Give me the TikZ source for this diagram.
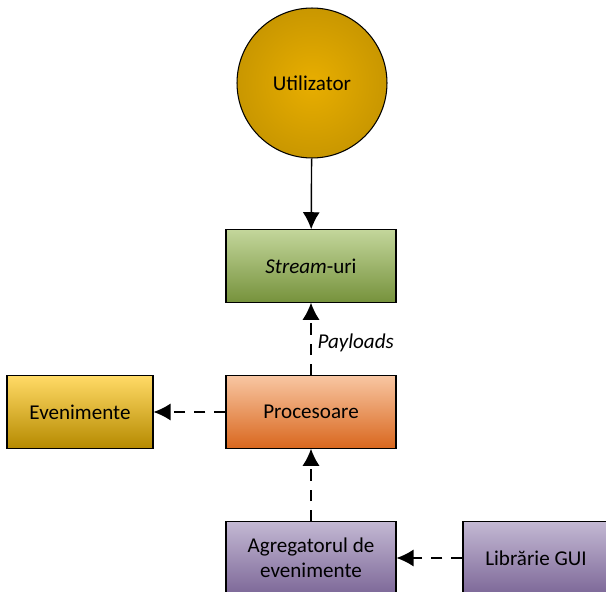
\documentclass[tikz,border=0pt]{standalone}
\usepackage{fontspec}
\setmainfont{Carlito}
\usepackage{tikz}
\usetikzlibrary{arrows.meta,positioning}

\definecolor{userIn}{HTML}{E8AE00}
\definecolor{userOut}{HTML}{C99700}
\definecolor{streamTop}{HTML}{C3D69B}
\definecolor{streamMid}{HTML}{9BBB59}
\definecolor{streamBot}{HTML}{76923C}
\definecolor{procTop}{HTML}{F8C6A2}
\definecolor{procMid}{HTML}{F0955A}
\definecolor{procBot}{HTML}{D9671E}
\definecolor{evTop}{HTML}{FFDA66}
\definecolor{evMid}{HTML}{FFC000}
\definecolor{evBot}{HTML}{B68A00}
\definecolor{guiTop}{HTML}{C3B8D3}
\definecolor{guiMid}{HTML}{A391BC}
\definecolor{guiBot}{HTML}{7D6898}

\begin{document}
\begin{tikzpicture}[
    x=0.02cm, y=-0.02cm,
    font=\fontsize{12}{14}\selectfont,
    block/.style={rectangle, draw=black, line width=0.6pt, align=center, minimum width=3.4cm, minimum height=1.45cm, shading=axis},
    stream/.style={block, top color=streamTop, middle color=streamMid, bottom color=streamBot},
    proc/.style={block, top color=procTop, middle color=procMid, bottom color=procBot},
    events/.style={block, minimum width=2.92cm, top color=evTop, middle color=evMid, bottom color=evBot},
    gui/.style={block, top color=guiTop, middle color=guiMid, bottom color=guiBot},
    user/.style={circle, draw=black, line width=0.6pt, minimum size=3cm, inner color=userIn, outer color=userOut},
    flow/.style={-{Latex[length=3.4mm,width=3.4mm]}, line width=0.8pt},
    weak/.style={flow, dash pattern=on 6.5pt off 5pt}
]
    \clip (0,0) rectangle (606,592);

    % --- USER & STREAMS ---
    \node[user] (Utilizator) at (312,83) {Utilizator};
    \node[stream] (Streams) at (311,266) {\textit{Stream}-uri};

    % --- PROCESSING ---
    \node[proc] (Procesoare) at (311,412) {Procesoare};
    \node[events] (Evenimente) at (80,412) {Evenimente};

    % --- EVENT SOURCES ---
    \node[gui] (Agregator) at (311,558) {Agregatorul de\\evenimente};
    \node[gui, minimum width=2.92cm] (GUI) at (536,558) {Librărie GUI};

    % ================= CONNECTIONS =================
    \draw[flow] (Utilizator) -- (Streams);
    \draw[weak] (Procesoare) -- node[right, pos=0.45] {\textit{Payloads}} (Streams);
    \draw[weak] (Procesoare) -- (Evenimente);
    \draw[weak] (Agregator) -- (Procesoare);
    \draw[weak] (GUI) -- (Agregator);

\end{tikzpicture}
\end{document}
